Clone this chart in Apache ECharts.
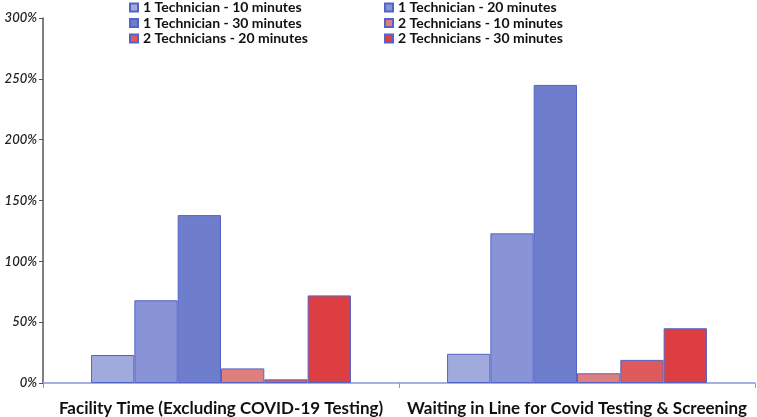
<!DOCTYPE html>
<html>
<head>
<meta charset="utf-8">
<script src="https://cdn.jsdelivr.net/npm/echarts@6/dist/echarts.min.js"></script>
<style>html,body{margin:0;padding:0;background:#fff;}#c{width:757px;height:417px;}</style>
</head>
<body>
<div id="c"></div>
<script>
const categories = ['Facility Time (Excluding COVID-19 Testing)', 'Waiting in Line for Covid Testing & Screening'];
const seriesNames = ['1 Technician - 10 minutes', '1 Technician - 20 minutes', '1 Technician - 30 minutes',
  '2 Technicians - 10 minutes', '2 Technicians - 20 minutes', '2 Technicians - 30 minutes'];
const oneTech10 = [23, 24];
const oneTech20 = [68, 123];
const oneTech30 = [138, 245];
const twoTech10 = [12, 8];
const twoTech20 = [3, 19];
const twoTech30 = [72, 45];
const yTicks = [0, 50, 100, 150, 200, 250, 300];

const values = [oneTech10, oneTech20, oneTech30, twoTech10, twoTech20, twoTech30];
const colors = ['#a1aadd', '#8994d6', '#6e7dcc', '#e07e7e', '#df5a5c', '#dc3e42'];
const font = 'Lato, "Open Sans", sans-serif';

const chart = echarts.init(document.getElementById('c'), null, {renderer: 'canvas'});
const series = seriesNames.map((n, i) => ({
  name: n,
  type: 'bar',
  data: values[i],
  barGap: '0%',
  barCategoryGap: '27%',
  itemStyle: {color: colors[i], borderColor: '#5464c6', borderWidth: 1},
  emphasis: {disabled: true}
}));
const legendText = {fontFamily: font, fontWeight: 'bold', fontSize: 14, color: '#111', lineHeight: 15};
chart.setOption({
  animation: false,
  color: colors,
  legend: [
    {data: [seriesNames[0], seriesNames[2], seriesNames[4]], orient: 'vertical', left: 129, top: 0,
     itemWidth: 8, itemHeight: 8, icon: 'rect', itemGap: 0.5, textStyle: legendText, padding: 0},
    {data: [seriesNames[1], seriesNames[3], seriesNames[5]], orient: 'vertical', left: 384, top: 0,
     itemWidth: 8, itemHeight: 8, icon: 'rect', itemGap: 0.5, textStyle: legendText, padding: 0}
  ],
  grid: {left: 43, right: 2, top: 18, bottom: 34, containLabel: false},
  xAxis: {
    type: 'category',
    data: categories,
    axisLine: {lineStyle: {color: '#8a96dc', width: 1.5}},
    axisTick: {show: true, alignWithLabel: false, length: 5, lineStyle: {color: '#8a96dc'}},
    axisLabel: {fontFamily: font, fontWeight: 'bold', fontSize: 17, color: '#111', margin: 17, interval: 0}
  },
  yAxis: {
    type: 'value',
    min: yTicks[0],
    max: yTicks[yTicks.length - 1],
    interval: 50,
    splitLine: {show: false},
    axisLine: {show: true, lineStyle: {color: '#555', width: 1.5}},
    axisTick: {show: true, length: 4, lineStyle: {color: '#555'}},
    axisLabel: {fontFamily: font, fontStyle: 'italic', fontWeight: 600, fontSize: 13, color: '#222', margin: 6,
      formatter: v => v + '%'}
  },
  series: series
});
</script>
</body>
</html>
